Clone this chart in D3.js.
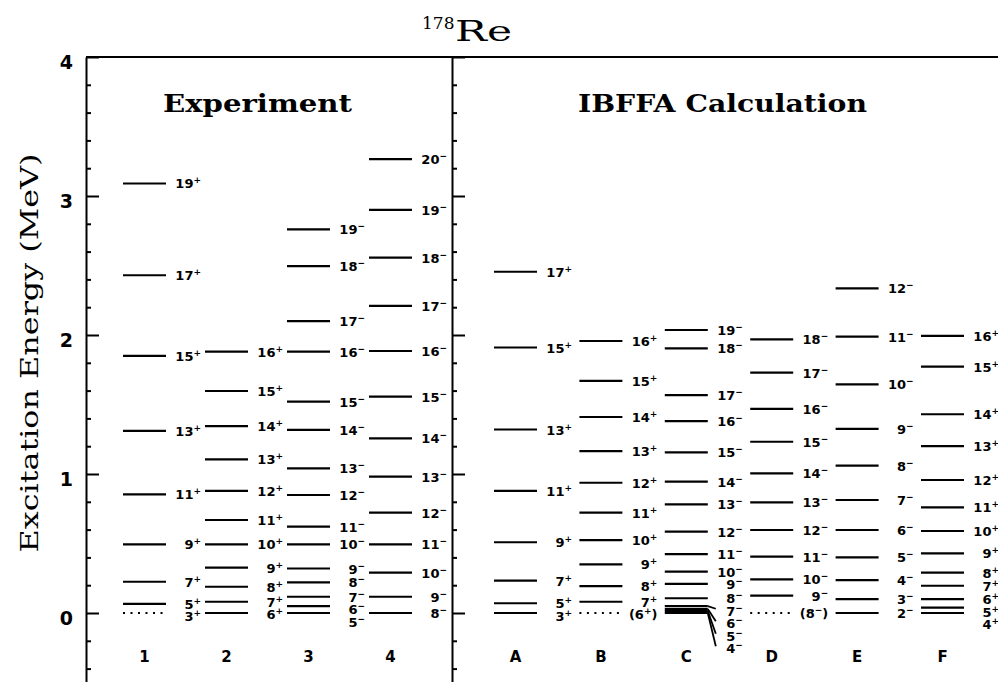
<!DOCTYPE html>
<html>
<head>
<meta charset="utf-8">
<script src="https://d3js.org/d3.v7.min.js"></script>
<style>
  body { margin: 0; background: #fff; }
  svg { display: block; }
</style>
</head>
<body>
<div id="container"></div>
<script>
// columns of the level scheme
const expCols = ["1", "2", "3", "4"];
const calcCols = ["A", "B", "C", "D", "E", "F"];
const parities = { "1": "+", "2": "+", "3": "-", "4": "-", A: "+", B: "+", C: "-", D: "-", E: "-", F: "+" };

// [energy MeV, spin]
const col1 = [[3.09, 19], [2.43, 17], [1.85, 15], [1.31, 13], [0.854, 11], [0.494, 9], [0.225, 7], [0.065, 5], [0, 3]];
const col2 = [[1.88, 16], [1.597, 15], [1.345, 14], [1.105, 13], [0.878, 12], [0.669, 11], [0.494, 10], [0.326, 9], [0.189, 8], [0.081, 7], [0, 6]];
const col3 = [[2.76, 19], [2.496, 18], [2.10, 17], [1.88, 16], [1.52, 15], [1.317, 14], [1.04, 13], [0.849, 12], [0.621, 11], [0.494, 10], [0.32, 9], [0.22, 8], [0.117, 7], [0.05, 6], [0, 5]];
const col4 = [[3.266, 20], [2.90, 19], [2.556, 18], [2.21, 17], [1.885, 16], [1.556, 15], [1.257, 14], [0.981, 13], [0.722, 12], [0.494, 11], [0.29, 10], [0.117, 9], [0, 8]];
const colA = [[2.455, 17], [1.91, 15], [1.32, 13], [0.878, 11], [0.509, 9], [0.233, 7], [0.07, 5], [0, 3]];
const colB = [[1.957, 16], [1.67, 15], [1.41, 14], [1.165, 13], [0.937, 12], [0.722, 11], [0.525, 10], [0.35, 9], [0.194, 8], [0.081, 7], [0, 6]];
const colC = [[2.036, 19], [1.904, 18], [1.568, 17], [1.381, 16], [1.156, 15], [0.945, 14], [0.782, 13], [0.585, 12], [0.424, 11], [0.297, 10], [0.209, 9], [0.106, 8], [0.05, 7], [0.028, 6], [0.014, 5], [0, 4]];
const colD = [[1.969, 18], [1.729, 17], [1.468, 16], [1.232, 15], [1.005, 14], [0.796, 13], [0.597, 12], [0.405, 11], [0.242, 10], [0.125, 9], [0, 8]];
const colE = [[2.336, 12], [1.988, 11], [1.645, 10], [1.324, 9], [1.06, 8], [0.813, 7], [0.597, 6], [0.40, 5], [0.237, 4], [0.10, 3], [0, 2]];
const colF = [[1.993, 16], [1.772, 15], [1.43, 14], [1.20, 13], [0.957, 12], [0.76, 11], [0.59, 10], [0.429, 9], [0.29, 8], [0.196, 7], [0.10, 6], [0.038, 5], [0, 4]];

// tentative levels: dotted line, and spin in brackets
const dotted = [["1", 3], ["B", 6], ["D", 8]];
const bracketed = [["B", 6], ["D", 8]];

const majorTicks = [0, 1, 2, 3, 4];
const minorTicks = [-0.4, -0.2, 0.2, 0.4, 0.6, 0.8, 1.2, 1.4, 1.6, 1.8, 2.2, 2.4, 2.6, 2.8, 3.2, 3.4, 3.6, 3.8];

const levels = { "1": col1, "2": col2, "3": col3, "4": col4, A: colA, B: colB, C: colC, D: colD, E: colE, F: colF };

const W = 998, H = 682;
const axisX = 86, divX = 452;
const lineW = 43;

const svg = d3.select("#container").append("svg")
  .attr("width", W).attr("height", H)
  .style("font-family", "'DejaVu Sans', sans-serif");

const y = d3.scaleLinear().domain([-0.6, 4]).range([696.4, 57]);
const xExp = d3.scalePoint().domain(expCols).range([123, 369]);
const xCalc = d3.scalePoint().domain(calcCols).range([494, 921]);
const xOf = c => expCols.includes(c) ? xExp(c) : xCalc(c);

// frame
svg.append("line")
  .attr("x1", axisX).attr("x2", W).attr("y1", y(4)).attr("y2", y(4))
  .attr("stroke", "#000").attr("stroke-width", 2);

function drawAxis(x) {
  const g = svg.append("g").attr("transform", `translate(${x},0)`);
  g.call(d3.axisRight(y).tickValues(majorTicks).tickSize(13).tickSizeOuter(0).tickFormat(""));
  g.append("g").call(d3.axisRight(y).tickValues(minorTicks).tickSize(5).tickSizeOuter(0).tickFormat(""))
    .select(".domain").remove();
  g.selectAll("path, line").attr("stroke", "#000").attr("stroke-width", 2);
  return g;
}
drawAxis(axisX);
drawAxis(divX);

// tick labels
const lab = svg.append("g").attr("transform", `translate(${axisX},0)`)
  .call(d3.axisLeft(y).tickValues(majorTicks).tickSize(0).tickPadding(13).tickFormat(d3.format("d")));
lab.select(".domain").remove();
lab.selectAll("text")
  .attr("dy", "0.6em")
  .style("font-family", "'DejaVu Sans', sans-serif")
  .style("font-weight", "bold")
  .style("font-size", "19px")
  .attr("fill", "#000");

// titles
svg.append("text")
  .attr("x", 422).attr("y", 29)
  .style("font-family", "'DejaVu Serif', serif").style("font-size", "17px")
  .text("178");
svg.append("text")
  .attr("x", 455).attr("y", 41)
  .attr("textLength", 57).attr("lengthAdjust", "spacingAndGlyphs")
  .style("font-family", "'DejaVu Serif', serif").style("font-size", "27px")
  .text("Re");

svg.append("text")
  .attr("x", 163).attr("y", 112)
  .attr("textLength", 189).attr("lengthAdjust", "spacingAndGlyphs")
  .style("font-family", "'DejaVu Serif', serif").style("font-size", "24px").style("font-weight", "bold")
  .text("Experiment");
svg.append("text")
  .attr("x", 578).attr("y", 112)
  .attr("textLength", 289).attr("lengthAdjust", "spacingAndGlyphs")
  .style("font-family", "'DejaVu Serif', serif").style("font-size", "24px").style("font-weight", "bold")
  .text("IBFFA Calculation");

svg.append("text")
  .attr("transform", "translate(38,353) rotate(-90)")
  .attr("text-anchor", "middle")
  .attr("textLength", 399).attr("lengthAdjust", "spacingAndGlyphs")
  .style("font-family", "'DejaVu Serif', serif").style("font-size", "24px")
  .text("Excitation Energy (MeV)");

// levels
const gap = 12.5;
Object.keys(levels).forEach(c => {
  const x1 = xOf(c), x2 = x1 + lineW;
  const par = parities[c];
  const data = levels[c].slice().sort((a, b) => b[0] - a[0]).map(d => ({ e: d[0], j: d[1], yl: y(d[0]) }));
  // push crowded labels downwards
  let prev = -Infinity;
  data.forEach(d => {
    d.ylab = Math.max(d.yl, prev + gap);
    prev = d.ylab;
  });
  const g = svg.append("g");
  const isDot = d => dotted.some(t => t[0] === c && t[1] === d.j);
  const isBr = d => bracketed.some(t => t[0] === c && t[1] === d.j);

  g.selectAll("line.lev").data(data).enter().append("line")
    .attr("class", "lev")
    .attr("x1", x1).attr("x2", x2)
    .attr("y1", d => d.yl).attr("y2", d => d.yl)
    .attr("stroke", "#000")
    .attr("stroke-width", d => isDot(d) ? 2 : 2.2)
    .attr("stroke-dasharray", d => isDot(d) ? "2,5.5" : null);

  if (c === "C") {
    g.selectAll("line.con").data(data.filter(d => d.ylab - d.yl > 3)).enter().append("line")
      .attr("x1", x2).attr("x2", x2 + 8)
      .attr("y1", d => d.yl).attr("y2", d => d.ylab - 2)
      .attr("stroke", "#000").attr("stroke-width", 1.8);
  }

  const t = g.selectAll("text.lab").data(data).enter().append("text")
    .attr("x", x2 + 35).attr("y", d => d.ylab + 5)
    .attr("text-anchor", "end")
    .style("font-weight", "bold").style("font-size", "13px");
  t.append("tspan").text(d => (isBr(d) ? "(" : "") + d.j);
  t.append("tspan").attr("dy", -5).style("font-size", "9px").text(par === "+" ? "+" : "\u2212");
  t.filter(isBr).append("tspan").attr("dy", 5).text(")");

  svg.append("text")
    .attr("x", x1 + lineW / 2).attr("y", 662)
    .attr("text-anchor", "middle")
    .style("font-weight", "bold").style("font-size", "15px")
    .text(c);
});
</script>
</body>
</html>
